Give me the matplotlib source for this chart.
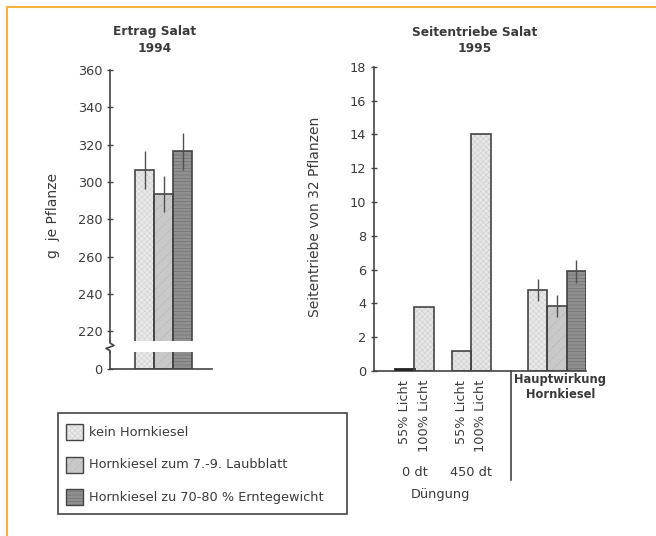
import matplotlib
matplotlib.use("Agg")
import matplotlib.pyplot as plt
from matplotlib.lines import Line2D
from matplotlib.patches import Rectangle

plt.rcParams['font.family'] = ['DejaVu Sans']
plt.rcParams['hatch.linewidth'] = 0.4

# ---------------- data ----------------
hk_labels = ["kein Hornkiesel", "Hornkiesel zum 7.-9. Laubblatt",
             "Hornkiesel zu 70-80 % Erntegewicht"]
ertrag_1994 = [306.5, 293.5, 316.5]
ertrag_1994_err = [10, 9.5, 10]
ertrag_ticks = [220, 240, 260, 280, 300, 320, 340, 360]

licht_labels = ["55% Licht", "100% Licht"]
duengung_labels = ["0 dt", "450 dt"]
seiten_0dt = [0.1, 3.8]
seiten_450dt = [1.2, 14.0]
seiten_haupt = [4.8, 3.85, 5.9]
seiten_haupt_err = [0.65, 0.65, 0.69]
seiten_ticks = [0, 2, 4, 6, 8, 10, 12, 14, 16, 18]

# ---------------- styles ----------------
W, H = 656, 536
EDGE = '#444444'
TXT = '#3a3a3a'
styles = [
    dict(fc='#e8e8e8', hatch='xxxxxx', hc='#d0d0d0'),
    dict(fc='#c8c8c8', hatch='///', hc='#b8b8b8'),
    dict(fc='#909090', hatch='-----', hc='#6c6c6c'),
]
licht_style = dict(fc='#e6e6e6', hatch='xxxxxx', hc='#cdcdcd')


def px(x, y):
    return x / W, 1 - y / H


def draw_bar(ax, x, h, w, st, lw=1.2):
    ax.bar(x, h, w, color=st['fc'], edgecolor=st['hc'], hatch=st['hatch'],
           linewidth=0, zorder=2)
    ax.bar(x, h, w, fill=False, edgecolor=EDGE, linewidth=lw, zorder=3)


fig = plt.figure(figsize=(W / 100, H / 100), dpi=100)

# orange frame (top and left)
fig.add_artist(Line2D([7 / W, 1], [1 - 7 / H, 1 - 7 / H], color='#f7b142', lw=1.5))
fig.add_artist(Line2D([7 / W, 7 / W], [0, 1 - 7 / H], color='#f7b142', lw=1.5))

tick_kw = dict(direction='inout', length=5, width=1, color=EDGE,
               labelsize=9.3, labelcolor=TXT, pad=3)

# ---------------- left chart (broken axis) ----------------
lx0, lx1 = 110, 211.7
ax1 = fig.add_axes([lx0 / W, 1 - 340.6 / H, (lx1 - lx0) / W, (340.6 - 70) / H])
ax2 = fig.add_axes([lx0 / W, 1 - 369 / H, (lx1 - lx0) / W, (369 - 352.3) / H])
xpos_l = [1.85, 2.85, 3.85]
for ax in (ax1, ax2):
    ax.set_xlim(0, 5.4)
    ax.patch.set_alpha(0)
    for s in ('top', 'right'):
        ax.spines[s].set_visible(False)
    ax.spines['left'].set_color(EDGE)
    ax.spines['left'].set_linewidth(1.2)
    ax.set_xticks([])
    ax.tick_params(axis='y', **tick_kw)
    for x, v, st in zip(xpos_l, ertrag_1994, styles):
        draw_bar(ax, x, v, 1.0, st)
ax1.spines['bottom'].set_visible(False)
ax2.spines['bottom'].set_color(EDGE)
ax2.spines['bottom'].set_linewidth(1.2)
ax1.set_ylim(215, 360)
ax1.set_yticks(ertrag_ticks)
ax2.set_ylim(0, 8)
ax2.set_yticks([0])
ax1.errorbar(xpos_l, ertrag_1994, yerr=ertrag_1994_err, fmt='none',
             ecolor='#505050', elinewidth=1, capsize=0, zorder=4)
ax1.set_ylabel("g  je Pflanze", fontsize=10, color=TXT)
ax1.yaxis.set_label_coords(-(lx0 - 60) / (lx1 - lx0), (340.6 - 216) / (340.6 - 70))

# zigzag break in the spine
zx = [110, 110, 114, 106, 110, 110]
zy = [340.6, 343, 345.5, 348.5, 350.5, 352.3]
fig.add_artist(Line2D([x / W for x in zx], [1 - y / H for y in zy],
                      color=EDGE, lw=1.2))

fig.text(*px(155, 32), "Ertrag Salat", ha='center', va='center',
         fontsize=8.8, fontweight='bold', color=TXT)
fig.text(*px(155, 48), "1994", ha='center', va='center',
         fontsize=8.8, fontweight='bold', color=TXT)

# ---------------- right chart ----------------
rx0, rx1, ry0, ry1 = 374, 586, 66.7, 371
ax3 = fig.add_axes([rx0 / W, 1 - ry1 / H, (rx1 - rx0) / W, (ry1 - ry0) / H])
ax3.patch.set_alpha(0)
ax3.set_xlim(0, 11)
ax3.set_ylim(0, 18)
ax3.set_yticks(seiten_ticks)
for s in ('top', 'right'):
    ax3.spines[s].set_visible(False)
for s in ('left', 'bottom'):
    ax3.spines[s].set_color(EDGE)
    ax3.spines[s].set_linewidth(1.2)
ax3.tick_params(axis='y', **tick_kw)

grp_x = [[1.6, 2.6], [4.55, 5.55]]
grp_vals = [seiten_0dt, seiten_450dt]
for xs, vals in zip(grp_x, grp_vals):
    for x, v in zip(xs, vals):
        if v < 0.3:
            ax3.plot([x - 0.5, x + 0.5], [v, v], color='#222222', lw=2, zorder=3)
        else:
            draw_bar(ax3, x, v, 1.0, licht_style)

xpos_h = [8.5, 9.5, 10.5]
for x, v, st in zip(xpos_h, seiten_haupt, styles):
    draw_bar(ax3, x, v, 1.0, st)
ax3.errorbar(xpos_h, seiten_haupt, yerr=seiten_haupt_err, fmt='none',
             ecolor='#505050', elinewidth=1, capsize=0, zorder=4)

all_x = grp_x[0] + grp_x[1]
ax3.set_xticks(all_x, licht_labels * 2, rotation=90, fontsize=9.3, color=TXT)
ax3.tick_params(axis='x', length=0, pad=6.5)

axh = ry1 - ry0
sep_x = 7.09
ax3.plot([sep_x, sep_x], [0, -(480 - ry1) / axh], color=EDGE, lw=1.2,
         transform=ax3.get_xaxis_transform(), clip_on=False)

for xs, lab in zip(grp_x, duengung_labels):
    ax3.text(sum(xs) / 2, -(473 - ry1) / axh, lab, ha='center', va='center',
             fontsize=9.3, color=TXT, transform=ax3.get_xaxis_transform())
ax3.text((sum(grp_x[0]) + sum(grp_x[1])) / 4 - 0.15, -(495 - ry1) / axh, "Düngung",
         ha='center', va='center', fontsize=9.3, color=TXT,
         transform=ax3.get_xaxis_transform())
ax3.text(sep_x + 0.2, -(373 - ry1) / axh, "Hauptwirkung\nHornkiesel", ha='left',
         va='top', fontsize=8.3, fontweight='bold', color=TXT,
         multialignment='center', linespacing=1.25,
         transform=ax3.get_xaxis_transform())

ax3.set_ylabel("Seitentriebe von 32 Pflanzen", fontsize=10, color=TXT)
ax3.yaxis.set_label_coords(-(rx0 - 322) / (rx1 - rx0), (ry1 - 217) / axh)

fig.text(*px(475, 32), "Seitentriebe Salat", ha='center', va='center',
         fontsize=8.8, fontweight='bold', color=TXT)
fig.text(*px(475, 49), "1995", ha='center', va='center',
         fontsize=8.8, fontweight='bold', color=TXT)

# ---------------- legend ----------------
fig.add_artist(Rectangle(px(58, 514), (347 - 58) / W, (514 - 413) / H,
                         transform=fig.transFigure, fill=False,
                         edgecolor=EDGE, lw=1.2))
row_y = [432, 465, 497]
for y, lab, st in zip(row_y, hk_labels, styles):
    fig.add_artist(Rectangle(px(66, y + 8), 17 / W, 16 / H,
                             transform=fig.transFigure, facecolor=st['fc'],
                             edgecolor=st['hc'], hatch=st['hatch'], lw=0))
    fig.add_artist(Rectangle(px(66, y + 8), 17 / W, 16 / H,
                             transform=fig.transFigure, fill=False,
                             edgecolor=EDGE, lw=1.0))
    fig.text(*px(89, y), lab, ha='left', va='center', fontsize=9.3, color=TXT)

fig.savefig("out.png", dpi=100)
